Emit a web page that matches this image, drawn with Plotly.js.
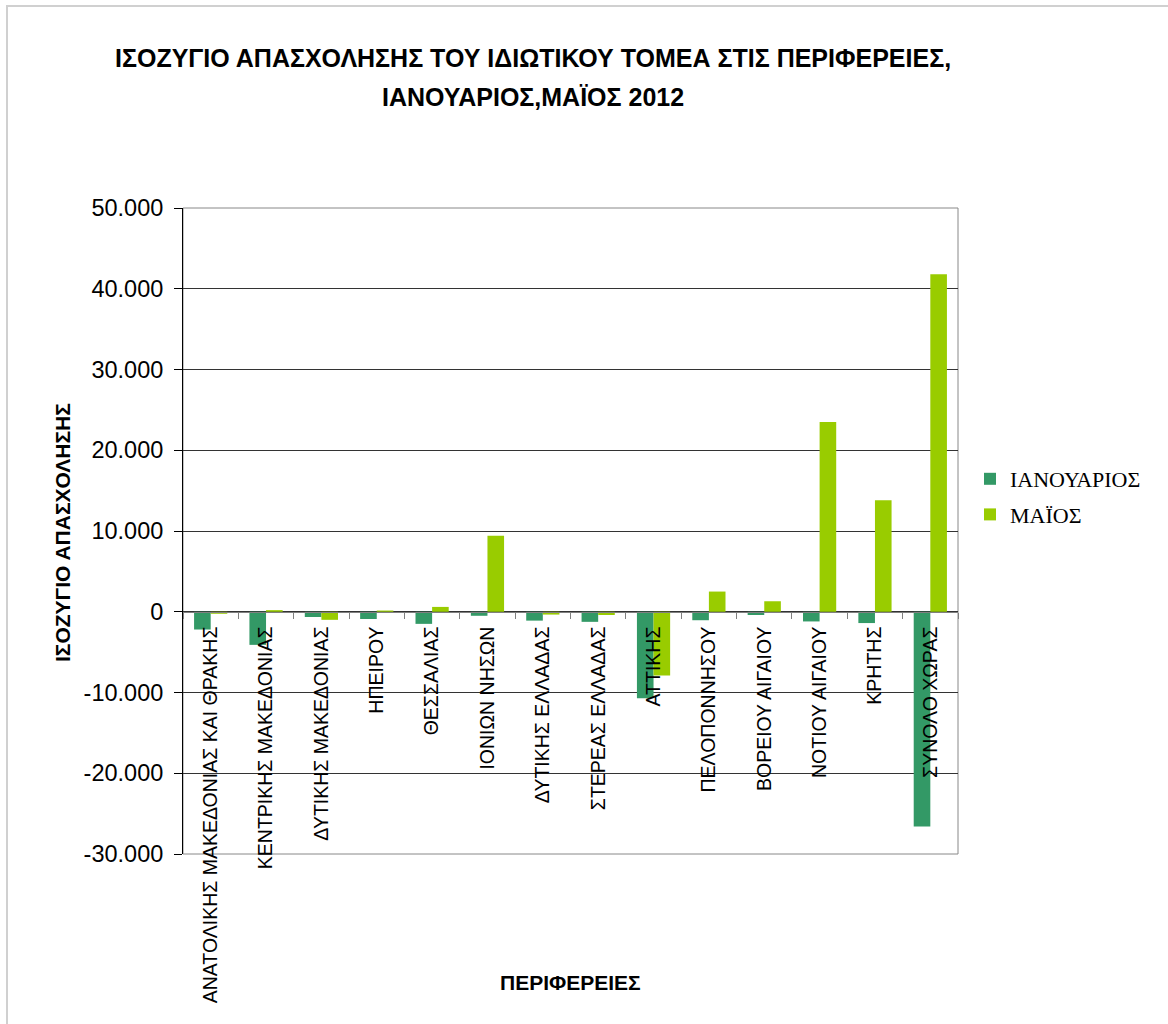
<!DOCTYPE html>
<html>
<head>
<meta charset="utf-8">
<script src="https://cdn.plot.ly/plotly-3.0.1.min.js"></script>
<style>html,body{margin:0;padding:0;background:#fff;}#chart{width:1168px;height:1024px;}</style>
</head>
<body>
<div id="chart"></div>
<script>
const categories = [
  "ΑΝΑΤΟΛΙΚΗΣ ΜΑΚΕΔΟΝΙΑΣ ΚΑΙ ΘΡΑΚΗΣ",
  "ΚΕΝΤΡΙΚΗΣ ΜΑΚΕΔΟΝΙΑΣ",
  "ΔΥΤΙΚΗΣ ΜΑΚΕΔΟΝΙΑΣ",
  "ΗΠΕΙΡΟΥ",
  "ΘΕΣΣΑΛΙΑΣ",
  "ΙΟΝΙΩΝ ΝΗΣΩΝ",
  "ΔΥΤΙΚΗΣ ΕΛΛΑΔΑΣ",
  "ΣΤΕΡΕΑΣ ΕΛΛΑΔΑΣ",
  "ΑΤΤΙΚΗΣ",
  "ΠΕΛΟΠΟΝΝΗΣΟΥ",
  "ΒΟΡΕΙΟΥ ΑΙΓΑΙΟΥ",
  "ΝΟΤΙΟΥ ΑΙΓΑΙΟΥ",
  "ΚΡΗΤΗΣ",
  "ΣΥΝΟΛΟ ΧΩΡΑΣ"
];
const seriesNames = ["ΙΑΝΟΥΑΡΙΟΣ", "ΜΑΪΟΣ"];
const january = [-2200, -4100, -650, -900, -1500, -500, -1100, -1250, -10700, -1050, -400, -1200, -1400, -26600];
const may = [-250, 200, -1000, 150, 600, 9400, -350, -400, -7900, 2500, 1300, 23500, 13800, 41800];
const yTickVals = [-30000, -20000, -10000, 0, 10000, 20000, 30000, 40000, 50000];
const yTickText = ["-30.000", "-20.000", "-10.000", "0", "10.000", "20.000", "30.000", "40.000", "50.000"];

const titleLines = ["ΙΣΟΖΥΓΙΟ ΑΠΑΣΧΟΛΗΣΗΣ ΤΟΥ ΙΔΙΩΤΙΚΟΥ ΤΟΜΕΑ ΣΤΙΣ ΠΕΡΙΦΕΡΕΙΕΣ,", "ΙΑΝΟΥΑΡΙΟΣ,ΜΑΪΟΣ 2012"];
const yTitle = "ΙΣΟΖΥΓΙΟ ΑΠΑΣΧΟΛΗΣΗΣ";
const xTitle = "ΠΕΡΙΦΕΡΕΙΕΣ";

// plot area geometry in pixels
const W = 1168, H = 1024;
const L = 183, R = 958, T = 208, B = 854;
const pw = R - L, ph = B - T;
const px = x => (x - L) / pw;
const py = y => (B - y) / ph;

const yMin = -30000, yMax = 50000;
const zeroPos = (0 - yMin) / (yMax - yMin);
const sans = 'Liberation Sans, Arial, sans-serif';

const traces = [
  {type: 'bar', name: seriesNames[0], x: categories, y: january, marker: {color: '#339966'}, legendgroup: 'a'},
  {type: 'bar', name: seriesNames[1], x: categories, y: may, marker: {color: '#99CC00'}, legendgroup: 'b'}
];

const layout = {
  width: W, height: H,
  margin: {l: L, r: W - R, t: T, b: H - B, pad: 0},
  paper_bgcolor: '#fff', plot_bgcolor: '#fff',
  barmode: 'group', bargap: 0.4, bargroupgap: 0,
  font: {family: sans, color: '#000'},
  xaxis: {
    type: 'category',
    anchor: 'free', position: zeroPos,
    showline: true, linecolor: '#808080', linewidth: 1,
    ticks: 'outside', tickson: 'boundaries', ticklen: 6, tickcolor: '#808080',
    tickangle: -90, tickfont: {size: 19.5, family: sans},
    ticklabelstandoff: 6,
    showgrid: false, zeroline: false
  },
  yaxis: {
    range: [yMin, yMax], tickvals: yTickVals, ticktext: yTickText,
    showline: true, linecolor: '#000', linewidth: 1,
    ticks: 'outside', ticklen: 8, tickcolor: '#000',
    ticklabelstandoff: 6,
    tickfont: {size: 23.5, family: sans},
    showgrid: true, gridcolor: '#333', gridwidth: 1,
    zeroline: false
  },
  showlegend: true,
  legend: {
    x: px(970), y: py(458), xanchor: 'left', yanchor: 'top',
    font: {family: 'Liberation Serif, Times New Roman, serif', size: 22, color: '#000'},
    traceorder: 'grouped', tracegroupgap: 4, itemwidth: 30
  },
  shapes: [
    {type: 'rect', xref: 'paper', yref: 'paper', x0: 0, x1: 1, y0: 0, y1: 1, line: {color: '#888', width: 1}, layer: 'below'},
    {type: 'rect', xref: 'paper', yref: 'paper', x0: px(7), x1: px(1180), y0: py(6), y1: py(1040), line: {color: '#d0d0d0', width: 2}}
  ],
  annotations: [
    {text: '<b>' + titleLines[0] + '</b>', xref: 'paper', yref: 'paper', x: px(533), y: py(58), xanchor: 'center', yanchor: 'middle', showarrow: false, font: {size: 25, family: sans}},
    {text: '<b>' + titleLines[1] + '</b>', xref: 'paper', yref: 'paper', x: px(533), y: py(97), xanchor: 'center', yanchor: 'middle', showarrow: false, font: {size: 25, family: sans}},
    {text: '<b>' + yTitle + '</b>', xref: 'paper', yref: 'paper', x: px(62), y: py(533), xanchor: 'center', yanchor: 'middle', textangle: -90, showarrow: false, font: {size: 21, family: sans}},
    {text: '<b>' + xTitle + '</b>', xref: 'paper', yref: 'paper', x: px(570), y: py(982), xanchor: 'center', yanchor: 'middle', showarrow: false, font: {size: 21, family: sans}}
  ]
};

Plotly.newPlot('chart', traces, layout, {displayModeBar: false, staticPlot: true});
</script>
</body>
</html>
